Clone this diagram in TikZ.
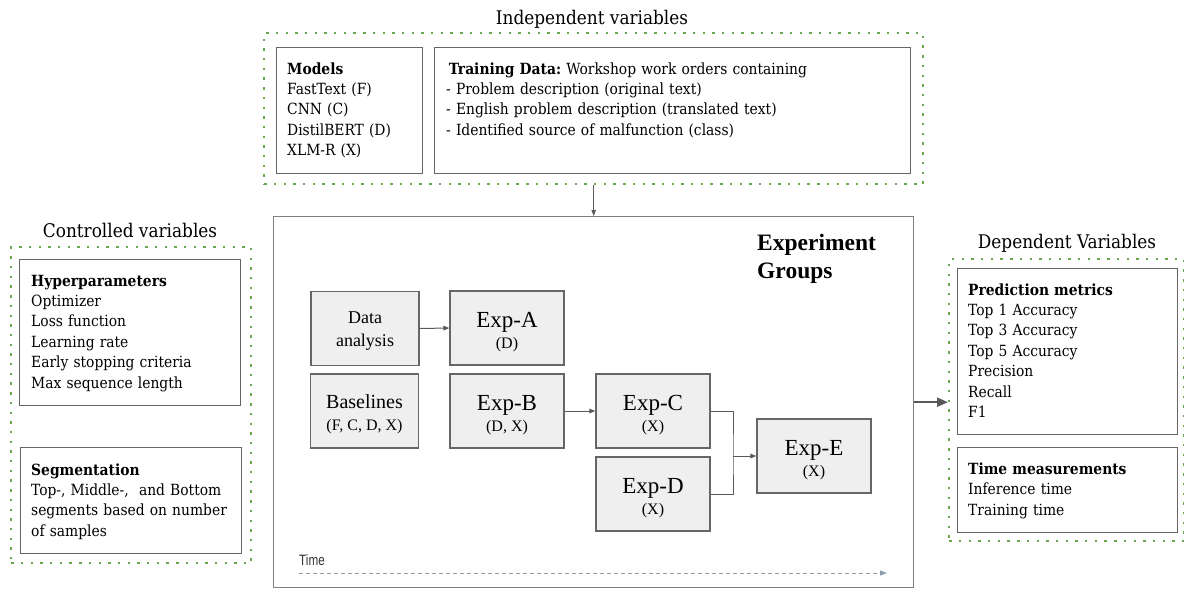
\documentclass[tikz,border=0pt]{standalone}
\usepackage{fontspec}
\setmainfont{Liberation Serif}
\newfontfamily\slabfont{DejaVu Serif Condensed}
\newfontfamily\labelsans{Liberation Sans}
\usetikzlibrary{arrows.meta,calc}
\frenchspacing

\definecolor{dotgreen}{HTML}{6AA84F}
\definecolor{edgegray}{HTML}{666666}
\definecolor{framegray}{HTML}{7F7F7F}
\definecolor{boxfill}{HTML}{EFEFEF}
\definecolor{linkgray}{HTML}{595959}
\definecolor{timeline}{HTML}{8C9DAD}

\begin{document}
\begin{tikzpicture}[x=1pt,y=-1pt,
  groupframe/.style={draw=dotgreen, line width=2.4pt, dash pattern=on 2.4pt off 7.3pt,
    rectangle, inner sep=0pt, anchor=north west},
  panel/.style={draw=edgegray, line width=1.2pt, rectangle, inner sep=0pt, anchor=north west},
  expbox/.style={draw=edgegray, fill=boxfill, line width=1.2pt, rectangle, inner sep=0pt,
    minimum height=74pt},
  paneltext/.style={font=\slabfont\fontsize{15.4}{20.4}\selectfont\frenchspacing, align=left,
    inner sep=0pt, anchor=base west},
  grouptitle/.style={font=\slabfont\fontsize{18.8}{20}\selectfont, inner sep=0pt, anchor=base},
  expname/.style={font=\fontsize{23}{24}\selectfont, inner sep=0pt, anchor=base},
  expmodel/.style={font=\fontsize{16}{18}\selectfont, inner sep=0pt, anchor=base},
  link/.style={draw=linkgray, line width=1pt, -{Triangle[length=6pt,width=4.5pt]}},
  plainlink/.style={draw=linkgray, line width=1pt}
]
\useasboundingbox (0,0) rectangle (1184,590);

% ---------- independent variables ----------
\node[grouptitle] (indeptitle) at (592,24) {Independent variables};
\node[groupframe, minimum width=659pt, minimum height=151pt] (indep) at (263,32) {};
\node[panel, minimum width=146pt, minimum height=126pt] (models) at (276,47) {};
\node[panel, minimum width=476pt, minimum height=126pt] (training) at (434,47) {};
\node[paneltext, text width=135pt] (modelstext) at (287,74)
  {\textbf{Models}\\FastText (F)\\CNN (C)\\DistilBERT (D)\\XLM-R (X)};
\node[paneltext, text width=455pt] (trainingtext) at (446,74)
  {\,\textbf{Training Data:} Workshop work orders containing\\
   - Problem description (original text)\\
   - English problem description (translated text)\\
   - Identified source of malfunction (class)};

% ---------- controlled variables ----------
\node[grouptitle] (ctrltitle) at (130,237) {Controlled variables};
\node[groupframe, minimum width=240pt, minimum height=316pt] (ctrl) at (10,246) {};
\node[panel, minimum width=221pt, minimum height=146pt] (hyper) at (19,259) {};
\node[panel, minimum width=221pt, minimum height=106pt] (segm) at (20,447) {};
\node[paneltext, text width=205pt] (hypertext) at (31,286)
  {\textbf{Hyperparameters}\\Optimizer\\Loss function\\Learning rate\\Early stopping criteria\\Max sequence length};
\node[paneltext, text width=205pt] (segmtext) at (31,475)
  {\textbf{Segmentation}\\Top-, Middle-,\ \ and Bottom\\segments based on number\\of samples};

% ---------- dependent variables ----------
\node[grouptitle] (deptitle) at (1067,248) {Dependent Variables};
\node[groupframe, minimum width=235pt, minimum height=282pt] (dep) at (948,258) {};
\node[panel, minimum width=220pt, minimum height=166pt] (pred) at (957,268) {};
\node[panel, minimum width=220pt, minimum height=85pt] (timem) at (957,447) {};
\node[paneltext, text width=205pt] (predtext) at (968,295)
  {\textbf{Prediction metrics}\\Top 1 Accuracy\\Top 3 Accuracy\\Top 5 Accuracy\\Precision\\Recall\\F1};
\node[paneltext, text width=205pt] (timemtext) at (968,474.5)
  {\textbf{Time measurements}\\Inference time\\Training time};

% ---------- experiment groups ----------
\node[draw=framegray, line width=1.4pt, rectangle, inner sep=0pt, anchor=north west,
      minimum width=640pt, minimum height=371pt] (expgroups) at (273,216) {};
\node[font=\bfseries\fontsize{23.5}{27.5}\selectfont, align=left, text width=140pt,
      inner sep=0pt, anchor=base west] (exptitle) at (757,250.5) {Experiment\\Groups};

\node[expbox, minimum width=108pt] (data) at (365,328.5) {};
\node[expbox, minimum width=108pt] (base) at (364.5,411) {};
\node[expbox, minimum width=114pt] (expa) at (507,328) {};
\node[expbox, minimum width=114pt] (expb) at (507,411) {};
\node[expbox, minimum width=114pt] (expc) at (653,411) {};
\node[expbox, minimum width=114pt] (expd) at (653,494) {};
\node[expbox, minimum width=114pt] (expe) at (814,456) {};

\node[font=\fontsize{18}{22}\selectfont, inner sep=0pt, anchor=base] at ([yshift=5pt]data.center) {Data};
\node[font=\fontsize{18}{22}\selectfont, inner sep=0pt, anchor=base] at ([yshift=-17.5pt]data.center) {analysis};
\node[font=\fontsize{20}{22}\selectfont, inner sep=0pt, anchor=base] at ([yshift=3pt]base.center) {Baselines};
\node[expmodel] at ([yshift=-19pt]base.center) {(F, C, D, X)};

\node[expname] at ([yshift=0.5pt]expa.center) {Exp-A};
\node[expmodel] at ([yshift=-20pt]expa.center) {(D)};
\node[expname] at ([yshift=0.5pt]expb.center) {Exp-B};
\node[expmodel] at ([yshift=-20pt]expb.center) {(D, X)};
\node[expname] at ([yshift=0.5pt]expc.center) {Exp-C};
\node[expmodel] at ([yshift=-20pt]expc.center) {(X)};
\node[expname] at ([yshift=0.5pt]expd.center) {Exp-D};
\node[expmodel] at ([yshift=-20pt]expd.center) {(X)};
\node[expname] at ([yshift=0.5pt]expe.center) {Exp-E};
\node[expmodel] at ([yshift=-20pt]expe.center) {(X)};

% connectors inside the experiment groups
\draw[link] (data.east) -- (expa.west);
\draw[link] (expb.east) -- (expc.west);
\coordinate (merge) at (733,456);
\draw[plainlink] (expc.east) -| (merge) |- (expd.east);
\draw[link] (merge) -- (expe.west);

% time axis
\node[font=\labelsans\fontsize{15}{16}\selectfont, text=black!80, inner sep=0pt, anchor=base west]
  (timelabel) at (299,565) {\scalebox{0.78}[1]{Time}};
\coordinate (tstart) at (299,573);
\coordinate (tend) at (887,573);
\draw[draw=timeline, line width=1pt, dash pattern=on 4pt off 3pt,
      -{Triangle[length=7pt,width=5pt]}] (tstart) -- (tend);

% links between the groups
\draw[link] (indep.south) -- (expgroups.north);
\draw[draw=linkgray, line width=2.2pt, -{Triangle[length=11pt,width=9pt]}]
  (expgroups.east) -- (expgroups.east -| dep.west);
\end{tikzpicture}
\end{document}
